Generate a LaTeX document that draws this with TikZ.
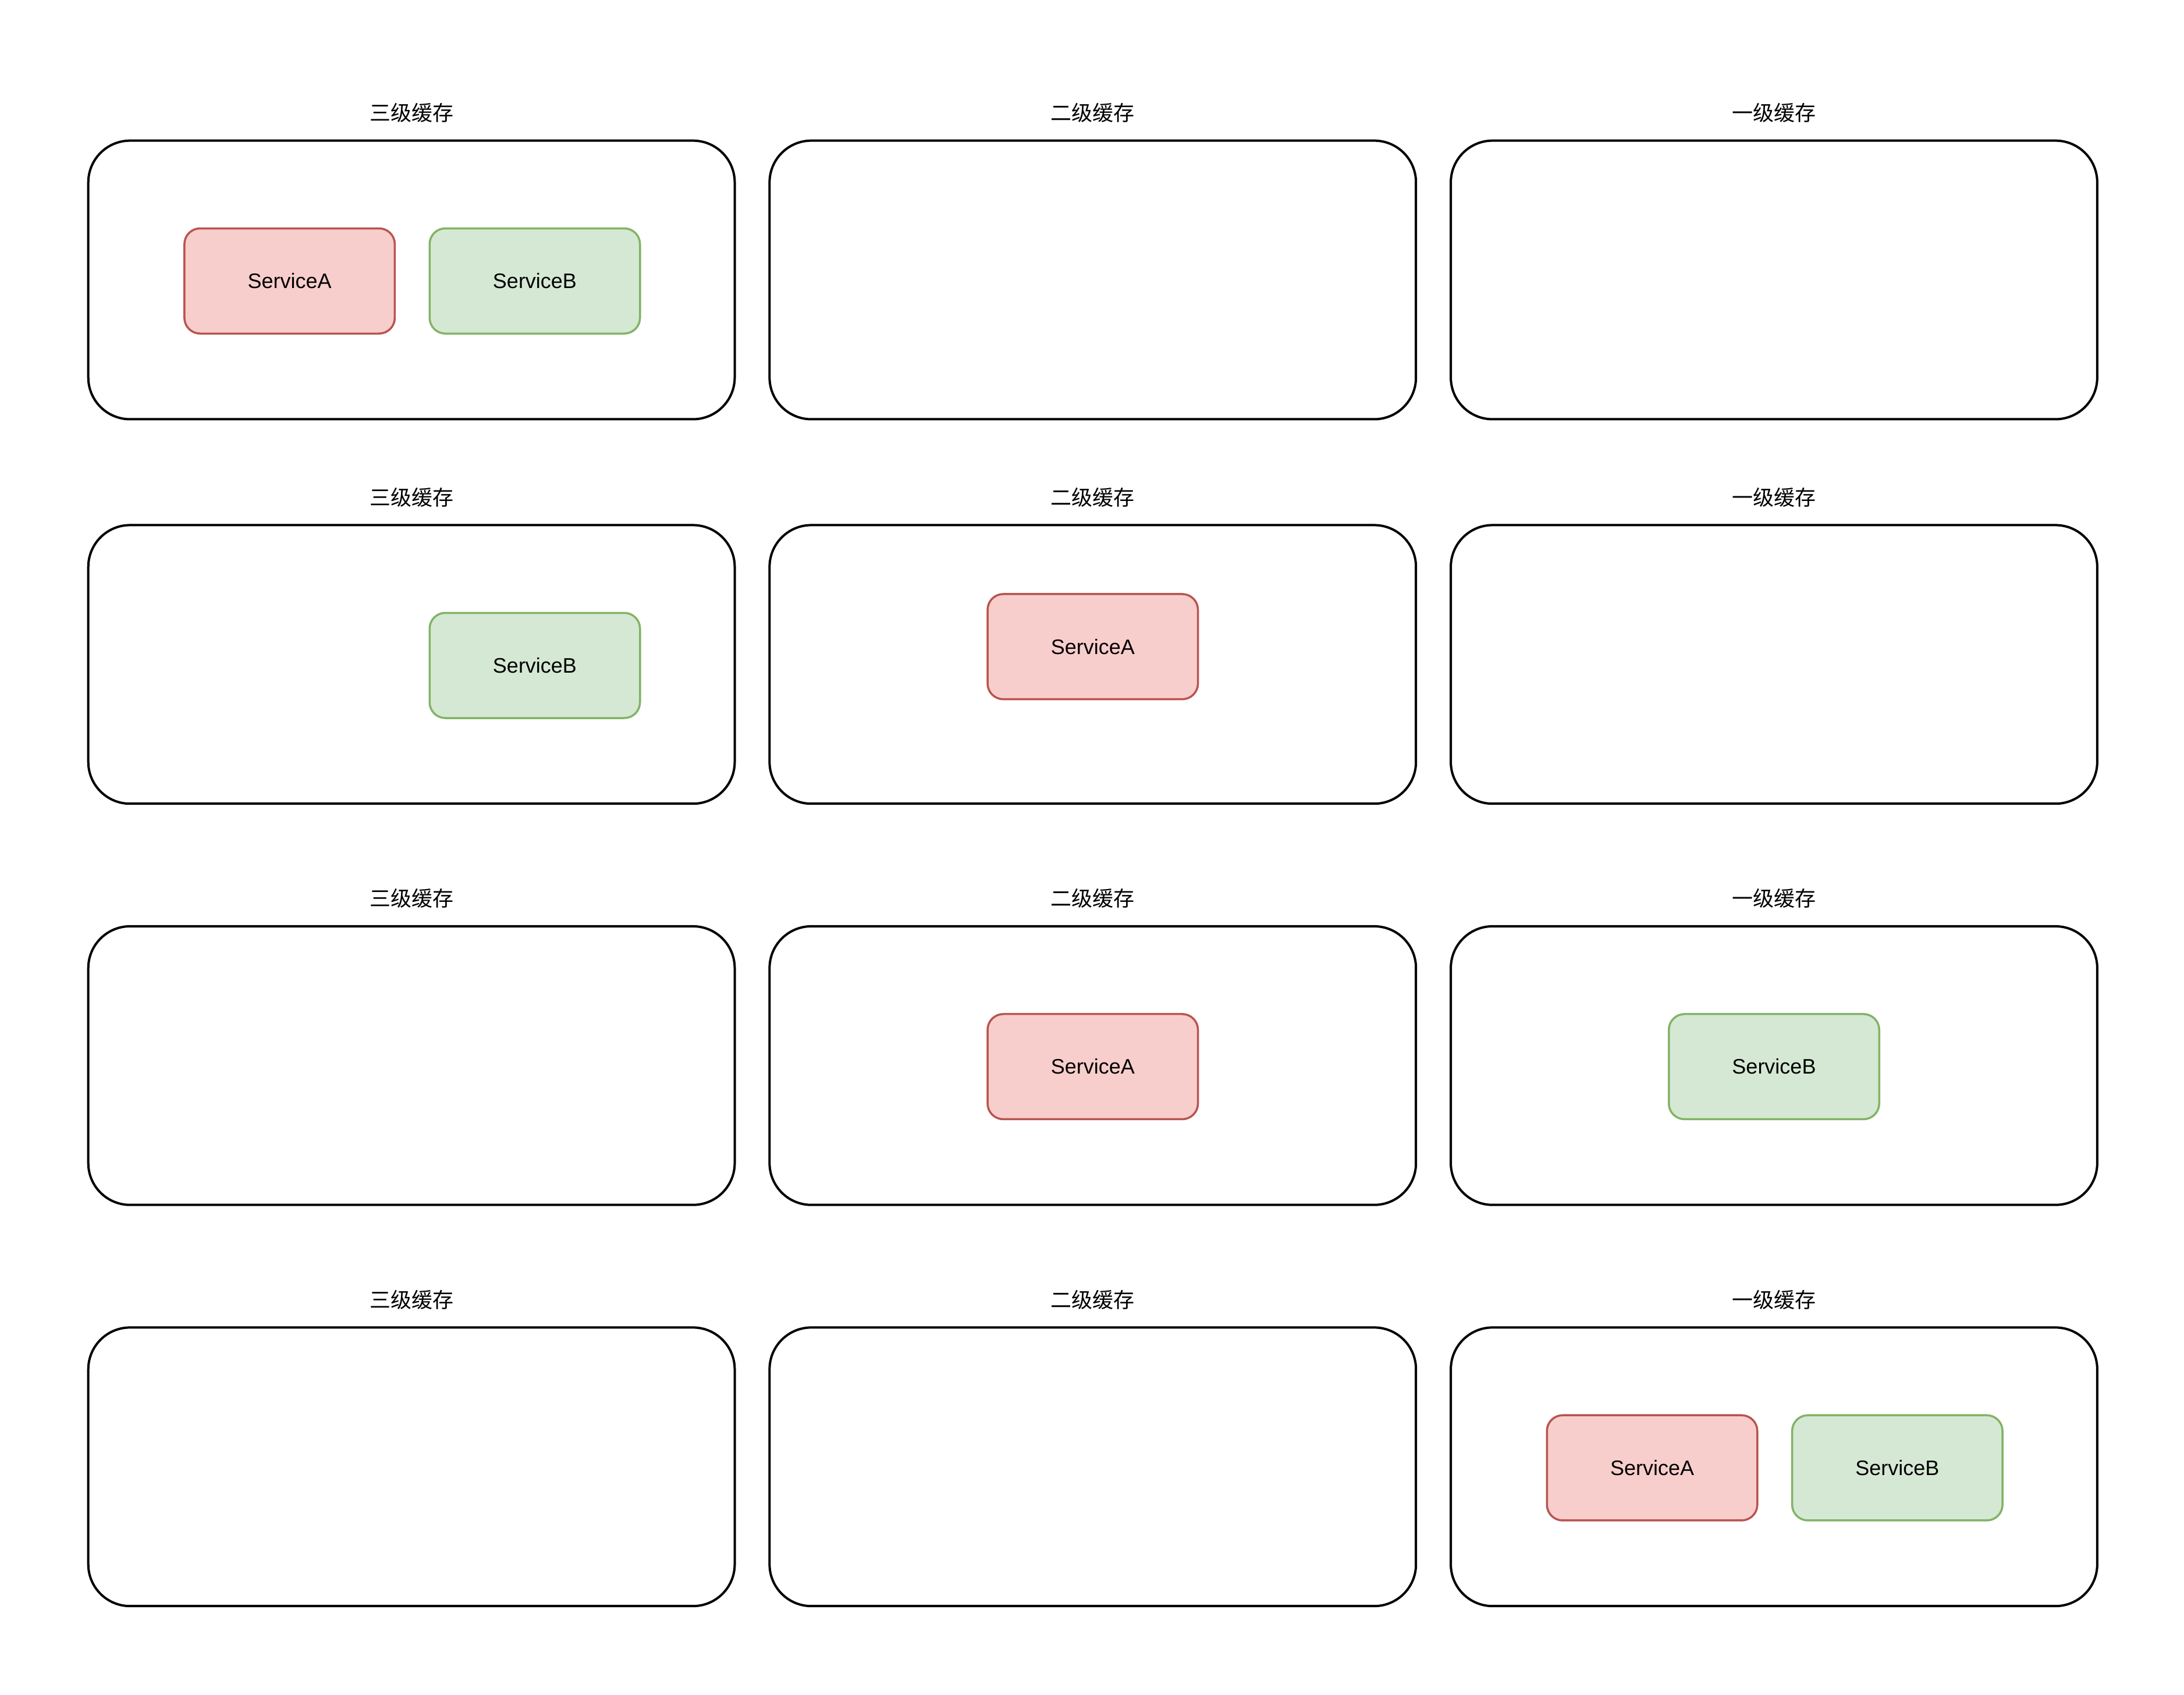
\documentclass[tikz,border=0pt]{standalone}
\usepackage{fontspec}
\setmainfont{Liberation Sans}
\newfontfamily\cjkfont{Noto Sans CJK SC}
\definecolor{redfill}{HTML}{F8CECC}
\definecolor{redline}{HTML}{B85450}
\definecolor{greenfill}{HTML}{D5E8D4}
\definecolor{greenline}{HTML}{82B366}
\begin{document}
\begin{tikzpicture}[x=0.4788pt,y=-0.4788pt,
  cachebox/.style={draw=black,line width=0.8pt,rounded corners=14.36pt,
    minimum width=222.16pt,minimum height=95.76pt,inner sep=0pt},
  svc/.style={line width=0.7pt,rounded corners=5.4pt,minimum width=72.3pt,
    minimum height=36.15pt,inner sep=0pt,font=\fontsize{7.2pt}{8.6pt}\selectfont},
  svca/.style={svc,draw=redline,fill=redfill},
  svcb/.style={svc,draw=greenline,fill=greenfill},
  cachetitle/.style={inner sep=0pt,font=\cjkfont\fontsize{7.2pt}{8.6pt}\selectfont}]
\useasboundingbox (-63.37,-100.96) rectangle (1504.3,1115.8);
\foreach \r/\y in {1/0,2/276,3/564,4/852}{
  \foreach \c/\t in {0/三级缓存,1/二级缓存,2/一级缓存}{
    \node[cachebox] (box\r\c) at ({\c*489+232},{\y+100}) {};
    \node[cachetitle] (title\r\c) at ({\c*489+232},{\y-20}) {\t};
  }
}
% row 1
\node[svca] (a1) at (144.5,100.75) {ServiceA};
\node[svcb] (b1) at (320.5,100.75) {ServiceB};
% row 2
\node[svcb] (b2) at (320.5,376.75) {ServiceB};
\node[svca] (a2) at (721,363.25) {ServiceA};
% row 3
\node[svca] (a3) at (721,664.75) {ServiceA};
\node[svcb] (b3) at (1210,664.75) {ServiceB};
% row 4
\node[svca] (a4) at (1122.5,952.75) {ServiceA};
\node[svcb] (b4) at (1298.5,952.75) {ServiceB};
\end{tikzpicture}
\end{document}
